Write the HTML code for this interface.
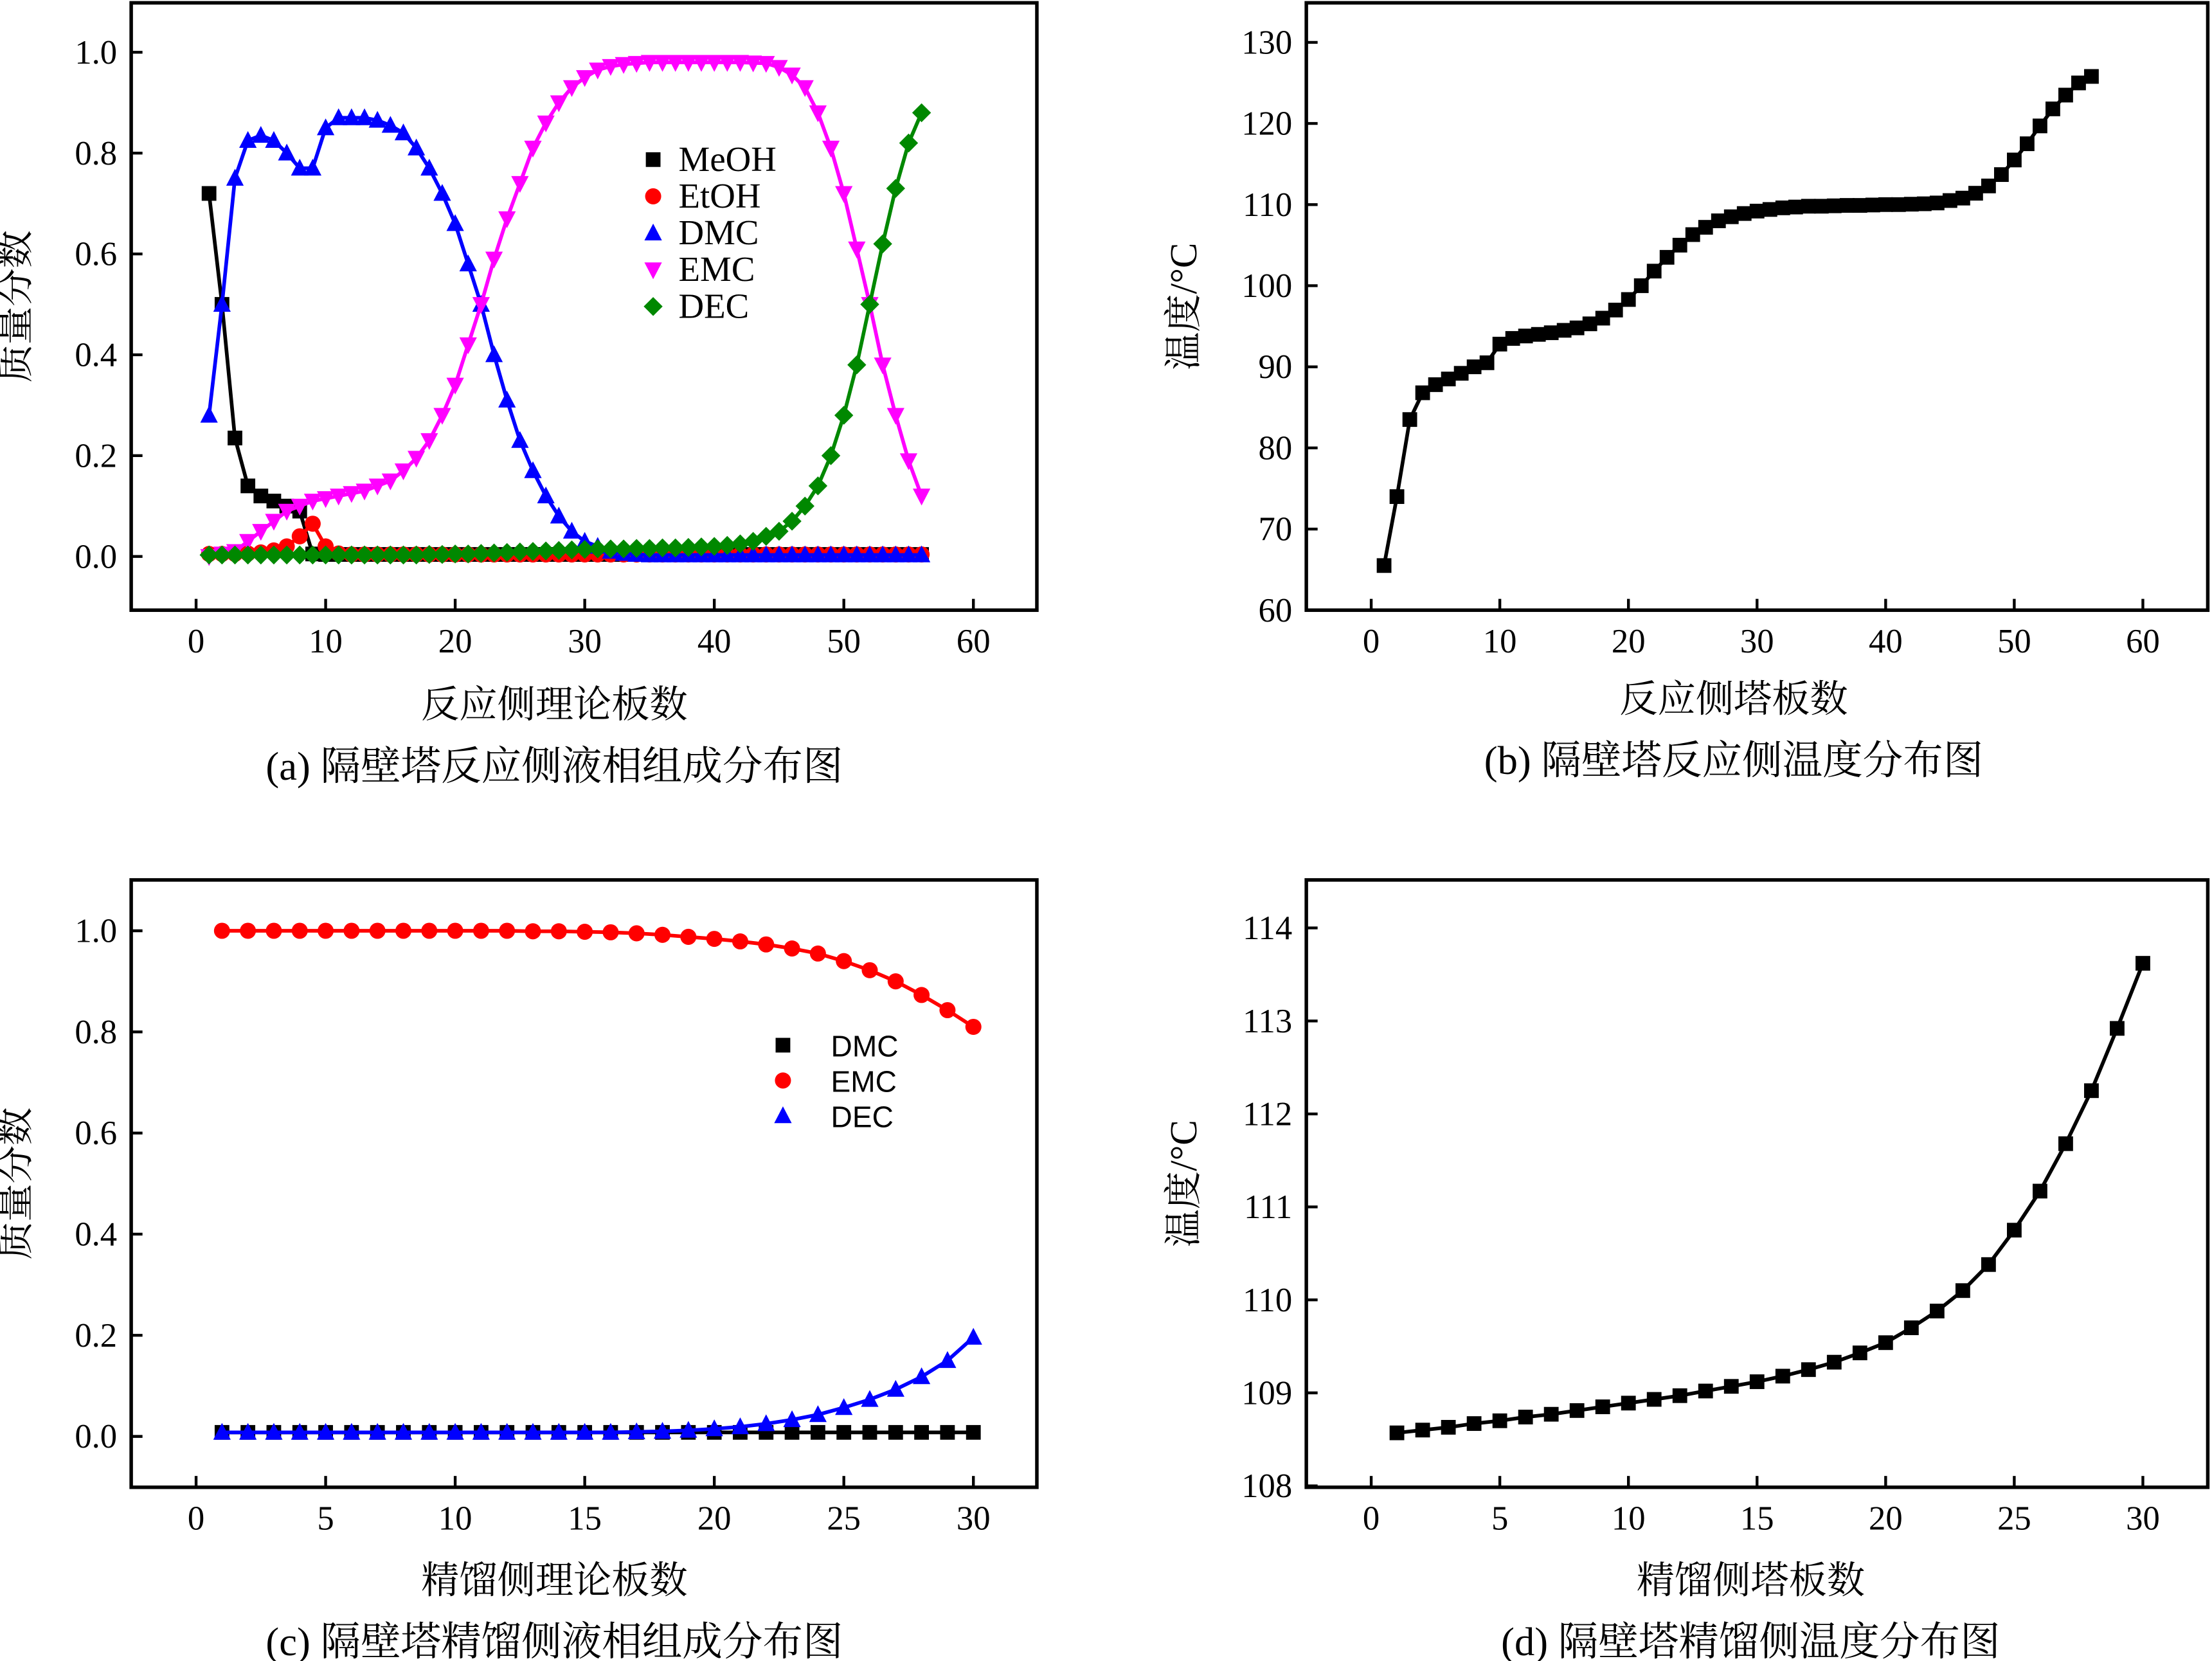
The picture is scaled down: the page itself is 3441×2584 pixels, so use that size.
<!DOCTYPE html>
<html><head><meta charset="utf-8"><style>
html,body{margin:0;padding:0;background:#fff;}
svg{display:block;}
.t{font-family:"Liberation Serif","Noto Serif CJK SC",serif;fill:#000;}
.c{font-family:"Liberation Serif","Noto Serif CJK SC","Noto Sans CJK SC",serif;fill:#000;}
.s{font-family:"Liberation Sans","Noto Sans CJK SC",sans-serif;fill:#000;}
</style></head><body>
<svg id="fig" width="3441" height="2584" viewBox="0 0 1568 1176" preserveAspectRatio="none" xmlns="http://www.w3.org/2000/svg"></svg>
<script>
// ---- data ----
const stagesA = [1,2,3,4,5,6,7,8,9,10,11,12,13,14,15,16,17,18,19,20,21,22,23,24,25,26,27,28,29,30,31,32,33,34,35,36,37,38,39,40,41,42,43,44,45,46,47,48,49,50,51,52,53,54,55,56];
const meohA = [0.72,0.50,0.235,0.14,0.12,0.11,0.10,0.09,0.005,0.004,0.004,0.004,0.004,0.004,0.004,0.004,0.004,0.004,0.004,0.004,0.004,0.004,0.004,0.004,0.004,0.004,0.004,0.004,0.004,0.004,0.004,0.004,0.004,0.004,0.004,0.004,0.004,0.004,0.004,0.004,0.004,0.004,0.004,0.004,0.004,0.004,0.004,0.004,0.004,0.004,0.004,0.004,0.004,0.004,0.004,0.004];
const etohA = [0.005,0.005,0.005,0.006,0.008,0.012,0.02,0.04,0.065,0.02,0.006,0.004,0.004,0.004,0.004,0.004,0.004,0.004,0.004,0.004,0.004,0.004,0.004,0.004,0.004,0.004,0.004,0.004,0.004,0.004,0.004,0.004,0.004,0.004,0.004,0.004,0.004,0.004,0.004,0.004,0.004,0.004,0.004,0.004,0.004,0.004,0.004,0.004,0.004,0.004,0.004,0.004,0.004,0.004,0.004,0.004];
const dmcA = [0.28,0.50,0.75,0.825,0.835,0.825,0.80,0.77,0.77,0.85,0.87,0.87,0.87,0.865,0.855,0.84,0.81,0.77,0.72,0.66,0.58,0.50,0.40,0.31,0.23,0.17,0.12,0.08,0.05,0.03,0.02,0.01,0.006,0.004,0.003,0.003,0.003,0.003,0.003,0.003,0.003,0.003,0.003,0.003,0.003,0.003,0.003,0.003,0.003,0.003,0.003,0.003,0.003,0.003,0.003,0.003];
const emcA = [0.0,0.005,0.01,0.03,0.05,0.07,0.09,0.10,0.11,0.115,0.12,0.125,0.13,0.14,0.15,0.17,0.195,0.23,0.28,0.34,0.42,0.50,0.59,0.67,0.74,0.81,0.86,0.90,0.93,0.95,0.965,0.972,0.976,0.978,0.98,0.98,0.98,0.98,0.98,0.98,0.98,0.98,0.979,0.978,0.97,0.955,0.93,0.88,0.81,0.72,0.61,0.50,0.38,0.28,0.19,0.12];
const decA = [0.003,0.003,0.003,0.003,0.003,0.003,0.003,0.003,0.003,0.003,0.003,0.003,0.003,0.003,0.003,0.003,0.003,0.004,0.004,0.005,0.005,0.006,0.007,0.008,0.009,0.01,0.011,0.012,0.013,0.014,0.015,0.015,0.015,0.016,0.016,0.017,0.017,0.018,0.019,0.02,0.022,0.025,0.03,0.04,0.05,0.07,0.10,0.14,0.20,0.28,0.38,0.50,0.62,0.73,0.82,0.88];
const tempB = [65.5,74,83.5,86.8,87.8,88.5,89.2,90,90.5,92.8,93.5,93.8,94,94.2,94.5,94.8,95.3,96,97,98.3,100,101.8,103.5,105,106.3,107.2,108,108.5,108.9,109.2,109.4,109.6,109.7,109.8,109.8,109.85,109.9,109.9,109.95,110,110,110.05,110.1,110.2,110.5,110.8,111.4,112.3,113.7,115.5,117.5,119.7,121.8,123.5,125,125.8];
const stagesC = [1,2,3,4,5,6,7,8,9,10,11,12,13,14,15,16,17,18,19,20,21,22,23,24,25,26,27,28,29,30];
const dmcC = [0.008,0.008,0.008,0.008,0.008,0.008,0.008,0.008,0.008,0.008,0.008,0.008,0.008,0.008,0.008,0.008,0.008,0.008,0.008,0.008,0.008,0.008,0.008,0.008,0.008,0.008,0.008,0.008,0.008,0.008];
const emcC = [1,1,1,1,1,1,1,1,1,1,1,1,0.999,0.999,0.998,0.997,0.995,0.992,0.988,0.984,0.979,0.973,0.965,0.955,0.94,0.922,0.90,0.873,0.843,0.81];
const decC = [0.008,0.008,0.008,0.008,0.008,0.008,0.008,0.008,0.008,0.008,0.008,0.008,0.008,0.008,0.008,0.008,0.009,0.01,0.012,0.015,0.019,0.025,0.033,0.043,0.057,0.073,0.093,0.118,0.15,0.196];
const tempD = [108.57,108.6,108.63,108.67,108.7,108.74,108.77,108.81,108.85,108.89,108.93,108.97,109.02,109.07,109.12,109.18,109.25,109.33,109.43,109.54,109.7,109.88,110.1,110.38,110.75,111.17,111.68,112.25,112.92,113.62];
const ticksA_x = [0,10,20,30,40,50,60];
const ticksA_y = ["0.0","0.2","0.4","0.6","0.8","1.0"];
const ticksB_y = [60,70,80,90,100,110,120,130];
const ticksC_x = [0,5,10,15,20,25,30];
const ticksD_y = [108,109,110,111,112,113,114];

const NS="http://www.w3.org/2000/svg";
const svg=document.getElementById('fig');
function mk(tag,attrs,name,parent){
  const el=document.createElementNS(NS,tag);
  for(const k in attrs) el.setAttribute(k,attrs[k]);
  
  
  (parent||svg).appendChild(el);
  return el;
}
function txt(x,y,s,size,name,anchor,cls){
  const t=mk('text',{x:x,y:y,'font-size':size,'text-anchor':anchor||'middle',class:cls||'t'},name);
  t.textContent=s; return t;
}
function marker(g,shape,x,y,color,name){
  const r=5.2;
  if(shape==='sq') mk('rect',{x:x-r,y:y-r,width:2*r,height:2*r,fill:color},name,g);
  else if(shape==='ci') mk('circle',{cx:x,cy:y,r:r+0.5,fill:color},name,g);
  else if(shape==='up') mk('polygon',{points:`${x},${y-r-1.5} ${x-r-1},${y+r} ${x+r+1},${y+r}`,fill:color},name,g);
  else if(shape==='dn') mk('polygon',{points:`${x},${y+r+1.5} ${x-r-1},${y-r} ${x+r+1},${y-r}`,fill:color},name,g);
  else if(shape==='di') mk('polygon',{points:`${x},${y-r-1.5} ${x+r+1.5},${y} ${x},${y+r+1.5} ${x-r-1.5},${y}`,fill:color},name,g);
}
function panel(p){
  const sx=v=>p.px0+(v-p.x0)*(p.px1-p.px0)/(p.x1-p.x0);
  const sy=v=>p.py0+(v-p.y0)*(p.py1-p.py0)/(p.y1-p.y0);
  const g=mk('g',{},p.name+'-plot');
  mk('rect',{x:p.bx0,y:p.by0,width:p.bx1-p.bx0,height:p.by1-p.by0,fill:'none',stroke:'#000','stroke-width':2.5},p.name+'-frame',g);
  p.xt.forEach(v=>{const x=sx(v);
    mk('line',{x1:x,y1:p.by1,x2:x,y2:p.by1-8,stroke:'#000','stroke-width':2},'x-tick',g);
    txt(x,p.by1+30,String(v),24,'x-tick-label');});
  p.yt.forEach(s=>{const y=sy(parseFloat(s));
    mk('line',{x1:p.bx0,y1:y,x2:p.bx0+8,y2:y,stroke:'#000','stroke-width':2},'y-tick',g);
    txt(p.bx0-10,y+8,String(s),24,'y-tick-label','end');});
  p.series.forEach(s=>{
    const sg=mk('g',{},'series-'+s.id,g);
    const pts=s.x.map((v,i)=>sx(v)+','+sy(s.y[i])).join(' ');
    mk('polyline',{points:pts,fill:'none',stroke:s.color,'stroke-width':2.6},'line-'+s.id,sg);
    s.x.forEach((v,i)=>marker(sg,s.shape,sx(v),sy(s.y[i]),s.color,'point-'+s.id));
  });
  txt(p.tc,p.xlY,p.xl,27,'x-axis-title','middle','c');
  const yl=mk('text',{x:0,y:0,'font-size':27,'text-anchor':'middle',class:'c',transform:`translate(${p.ylX},${(p.by0+p.by1)/2}) rotate(-90)`},'y-axis-title');
  yl.textContent=p.yl;
  txt(p.tc,p.capY,p.cap,28.5,'caption','middle','c');
  if(p.legend){
    const lg=mk('g',{},'legend',g);
    p.series.forEach((s,i)=>{const y=p.legend.y+i*p.legend.dy;
      marker(lg,s.shape,p.legend.x,y,s.color,'legend-marker-'+s.id);
      const t=mk('text',{x:p.legend.x+p.legend.tx,y:y+8,'font-size':p.legend.fs,class:p.legend.cls},'legend-entry',lg);
      t.textContent=s.label;});
  }
}
panel({name:'panel-a',bx0:93,bx1:735,by0:2,by1:432,x0:0,x1:60,px0:139,px1:690,y0:0,y1:1,py0:394,py1:37,tc:393,
  xt:ticksA_x,yt:ticksA_y,xl:'反应侧理论板数',xlY:508,yl:'质量分数',ylX:20,cap:'(a) 隔壁塔反应侧液相组成分布图',capY:552,
  legend:{x:463,y:113,dy:26,tx:18,fs:25,cls:'t'},
  series:[{id:'meoh',label:'MeOH',x:stagesA,y:meohA,color:'#000',shape:'sq'},
   {id:'etoh',label:'EtOH',x:stagesA,y:etohA,color:'#f00',shape:'ci'},
   {id:'dmc',label:'DMC',x:stagesA,y:dmcA,color:'#00f',shape:'up'},
   {id:'emc',label:'EMC',x:stagesA,y:emcA,color:'#f0f',shape:'dn'},
   {id:'dec',label:'DEC',x:stagesA,y:decA,color:'#080',shape:'di'}]});
panel({name:'panel-b',bx0:926,bx1:1565,by0:2,by1:432,x0:0,x1:60,px0:972,px1:1519,y0:60,y1:130,py0:432,py1:30,tc:1229,
  xt:ticksA_x,yt:ticksB_y,xl:'反应侧塔板数',xlY:504,yl:'温度/°C',ylX:848,cap:'(b)  隔壁塔反应侧温度分布图',capY:548,
  series:[{id:'temp',label:'T',x:stagesA,y:tempB,color:'#000',shape:'sq'}]});
panel({name:'panel-c',bx0:93,bx1:735,by0:623,by1:1053,x0:0,x1:30,px0:139,px1:690,y0:0,y1:1,py0:1017,py1:659,tc:393,
  xt:ticksC_x,yt:ticksA_y,xl:'精馏侧理论板数',xlY:1128,yl:'质量分数',ylX:20,cap:'(c) 隔壁塔精馏侧液相组成分布图',capY:1172,
  legend:{x:555,y:740,dy:25,tx:34,fs:21,cls:'s'},
  series:[{id:'dmc',label:'DMC',x:stagesC,y:dmcC,color:'#000',shape:'sq'},
   {id:'emc',label:'EMC',x:stagesC,y:emcC,color:'#f00',shape:'ci'},
   {id:'dec',label:'DEC',x:stagesC,y:decC,color:'#00f',shape:'up'}]});
panel({name:'panel-d',bx0:926,bx1:1565,by0:623,by1:1053,x0:0,x1:30,px0:972,px1:1519,y0:108,y1:114,py0:1052,py1:657,tc:1241,
  xt:ticksC_x,yt:ticksD_y,xl:'精馏侧塔板数',xlY:1128,yl:'温度/°C',ylX:848,cap:'(d) 隔壁塔精馏侧温度分布图',capY:1172,
  series:[{id:'temp',label:'T',x:stagesC,y:tempD,color:'#000',shape:'sq'}]});
</script>
</body></html>
